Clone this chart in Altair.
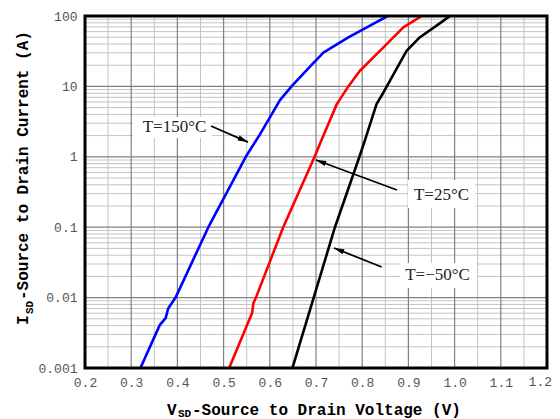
import math
import altair as alt
import pandas as pd

# ---------------- data ----------------
# T = 150 C (blue)
v150 = [0.320, 0.362, 0.3746, 0.380, 0.396, 0.467, 0.548, 0.579, 0.622, 0.647, 0.690, 0.716, 0.770, 0.810, 0.855]
i150 = [0.001, 0.0041, 0.0051, 0.0070, 0.01, 0.1, 1.0, 2.1, 6.4, 10, 20, 30.1, 49.8, 69, 100]
# T = 25 C (red)
v25 = [0.512, 0.5615, 0.5647, 0.570, 0.629, 0.697, 0.712, 0.745, 0.770, 0.795, 0.846, 0.889, 0.929]
i25 = [0.001, 0.006, 0.0084, 0.01, 0.1, 1.0, 1.73, 5.6, 10, 16.7, 35.9, 69, 100]
# T = -50 C (black)
vm50 = [0.649, 0.695, 0.741, 0.794, 0.806, 0.831, 0.846, 0.868, 0.896, 0.925, 0.961, 0.990]
im50 = [0.001, 0.01, 0.1, 1.0, 1.73, 5.6, 8.2, 15, 32, 50, 73, 100]

series_names = ["T=150℃", "T=25℃", "T=-50℃"]
series_colors = ["#0000ff", "#ff0000", "#000000"]

# axis ticks
x_ticks = [0.2, 0.3, 0.4, 0.5, 0.6, 0.7, 0.8, 0.9, 1.0, 1.1, 1.2]
y_ticks = [0.001, 0.01, 0.1, 1, 10, 100]
x_minor = [0.25, 0.35, 0.45, 0.55, 0.65, 0.75, 0.85, 0.95, 1.05, 1.15]
y_minor = [k * 10.0 ** e for e in (-3, -2, -1, 0, 1) for k in range(2, 10)]

# annotations
ann_text = ["T=150°C", "T=25°C", "T=−50°C"]
ann_x = [0.3937, 0.9716, 0.963]
ann_y = [2.65, 0.2867, 0.02094]
box_x1 = [0.3039, 0.8991, 0.8818]
box_x2 = [0.4749, 1.0442, 1.0485]
box_y1 = [3.675, 0.468, 0.031]
box_y2 = [1.849, 0.1874, 0.01369]
arr_x1 = [0.4727, 0.8753, 0.8422]
arr_y1 = [2.74, 0.3376, 0.0272]
arr_x2 = [0.5528, 0.700, 0.739]
arr_y2 = [1.62, 0.90, 0.0507]

# ---------------- chart ----------------
W, H = 462, 352
XMIN, XMAX = 0.2, 1.2
YMIN, YMAX = 0.001, 100

xs = alt.Scale(domain=[XMIN, XMAX], nice=False, zero=False)
ys = alt.Scale(type="log", domain=[YMIN, YMAX], nice=False)

LABEL_FONT = "Liberation Mono"
LABEL_COLOR = "#555555"
axis_common = dict(domain=False, ticks=False, grid=False, labelFont=LABEL_FONT,
                   labelFontSize=13, labelColor=LABEL_COLOR, labelPadding=8, title=None,
                   labelFlush=False)
# the last x label (1.2) is drawn separately so that it stays inside the page
XA = alt.Axis(values=x_ticks, format=".1f",
              labelExpr="datum.value > 1.15 ? '' : format(datum.value, '.1f')", **axis_common)
YA = alt.Axis(values=y_ticks, format="~g", **axis_common)

def X(f):
    return alt.X(f, scale=xs, axis=XA, title=None)

def Y(f):
    return alt.Y(f, scale=ys, axis=YA, title=None)

rows = []
for name, vv, ii in zip(series_names, [v150, v25, vm50], [i150, i25, im50]):
    for k, (v, i) in enumerate(zip(vv, ii)):
        rows.append({"V": v, "I": i, "T": name, "o": k})
curves = pd.DataFrame(rows)

vminor_df = pd.DataFrame({"v": x_minor})
vmajor_df = pd.DataFrame({"v": x_ticks[1:-1]})
hminor_df = pd.DataFrame({"i": y_minor})
hmajor_df = pd.DataFrame({"i": y_ticks[1:-1]})

vminor = alt.Chart(vminor_df).mark_rule(color="#c4c4c4", strokeWidth=1).encode(x=X("v:Q"))
hminor = alt.Chart(hminor_df).mark_rule(color="#c4c4c4", strokeWidth=1).encode(y=Y("i:Q"))
vmajor = alt.Chart(vmajor_df).mark_rule(color="#808080", strokeWidth=1.2).encode(x=X("v:Q"))
hmajor = alt.Chart(hmajor_df).mark_rule(color="#808080", strokeWidth=1.2).encode(y=Y("i:Q"))

lines = alt.Chart(curves).mark_line(strokeWidth=2.6, clip=True, strokeJoin="round").encode(
    x=X("V:Q"),
    y=Y("I:Q"),
    color=alt.Color("T:N", scale=alt.Scale(domain=series_names, range=series_colors), legend=None),
    order="o:Q",
    detail="T:N",
)

boxes_df = pd.DataFrame({"x1": box_x1, "x2": box_x2, "y1": box_y1, "y2": box_y2})
boxes = alt.Chart(boxes_df).mark_rect(fill="white").encode(
    x=X("x1:Q"), x2="x2:Q", y=Y("y1:Q"), y2="y2:Q")

txt_df = pd.DataFrame({"x": ann_x, "y": ann_y, "t": ann_text})
texts = alt.Chart(txt_df).mark_text(font="Liberation Serif", fontSize=17, color="#222222",
                                    align="center", baseline="middle").encode(
    x=X("x:Q"), y=Y("y:Q"), text="t:N")

def to_px(v, i):
    return ((v - XMIN) / (XMAX - XMIN) * W,
            (math.log10(YMAX) - math.log10(i)) / (math.log10(YMAX) - math.log10(YMIN)) * H)

angles = []
for a, b, c, d in zip(arr_x1, arr_y1, arr_x2, arr_y2):
    p1 = to_px(a, b)
    p2 = to_px(c, d)
    dx, dy = p2[0] - p1[0], p2[1] - p1[1]
    angles.append(math.degrees(math.atan2(dx, -dy)) % 360)

arr_df = pd.DataFrame({"x1": arr_x1, "y1": arr_y1, "x2": arr_x2, "y2": arr_y2, "ang": angles})
arrow_lines = alt.Chart(arr_df).mark_rule(color="black", strokeWidth=1.8).encode(
    x=X("x1:Q"), x2="x2:Q", y=Y("y1:Q"), y2="y2:Q")
arrow_heads = alt.Chart(arr_df).mark_point(shape="M0,0L-0.45,1.7L0.45,1.7Z", filled=True,
                                           color="black", opacity=1, size=144).encode(
    x=X("x2:Q"), y=Y("y2:Q"),
    angle=alt.Angle("ang:Q", scale=None))

frame_df = pd.DataFrame({"x1": [XMIN], "x2": [XMAX], "y1": [YMIN], "y2": [YMAX]})
frame = alt.Chart(frame_df).mark_rect(fill=None, stroke="black", strokeWidth=3).encode(
    x=X("x1:Q"), x2="x2:Q", y=Y("y1:Q"), y2="y2:Q")

last_df = pd.DataFrame({"v": [x_ticks[-1]], "t": ["1.2"]})
last_label = alt.Chart(last_df).mark_text(font=LABEL_FONT, fontSize=13, color=LABEL_COLOR,
                                          align="right", baseline="top", dx=5).encode(
    x=X("v:Q"), y=alt.value(H + 8), text="t:N")

one = pd.DataFrame({"a": [0]})
TF = "Liberation Mono"

def ttext(s, x, y, size, angle=0):
    return alt.Chart(one).mark_text(text=s, font=TF, fontWeight="bold", fontSize=size, color="black",
                                    align="left", baseline="alphabetic", angle=angle).encode(
        x=alt.value(x), y=alt.value(y))

titles = [
    ttext("V", 82, 399, 16),
    ttext("SD", 93, 401, 11),
    ttext("-Source to Drain Voltage (V)", 107, 399, 16),
    ttext("I", -57, 309, 16, 270),
    ttext("SD", -52, 298, 11, 270),
    ttext("-Source to Drain Current (A)", -57, 284, 16, 270),
]

chart = alt.layer(
    vminor, hminor, vmajor, hmajor, lines, boxes, texts, arrow_lines, arrow_heads, frame,
    last_label, *titles
).properties(
    width=W, height=H,
    autosize=alt.AutoSizeParams(type="none"),
    padding={"left": 77, "top": 8, "right": 5, "bottom": 51},
).configure_view(stroke=None)

chart.save("out.html", embed_options={"renderer": "svg", "actions": False})
